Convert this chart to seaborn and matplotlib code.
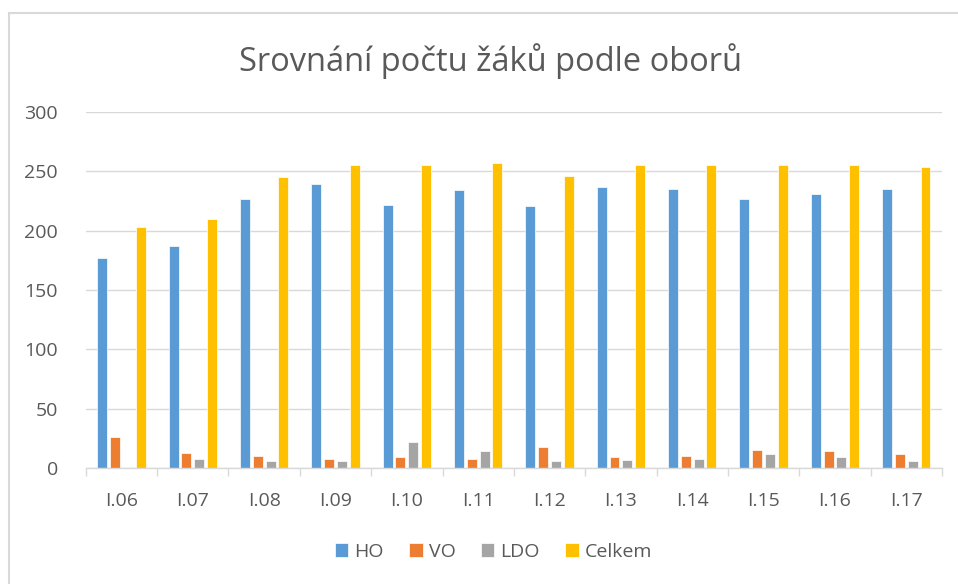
import pandas as pd
import numpy as np
import matplotlib.pyplot as plt
import seaborn as sns
from matplotlib.lines import Line2D

# data
obdobi = ['I.06', 'I.07', 'I.08', 'I.09', 'I.10', 'I.11',
          'I.12', 'I.13', 'I.14', 'I.15', 'I.16', 'I.17']
ho = [177, 187, 227, 239, 222, 234, 221, 237, 235, 227, 231, 235]
vo = [26, 13, 10, 8, 9, 8, 18, 9, 10, 15, 14, 12]
ldo = [0, 8, 6, 6, 22, 14, 6, 7, 8, 12, 9, 6]
celkem = [203, 210, 245, 255, 255, 257, 246, 255, 255, 255, 255, 254]

obory = ['HO', 'VO', 'LDO', 'Celkem']
barvy = ['#5B9BD5', '#ED7D31', '#A5A5A5', '#FFC000']

df = pd.DataFrame({'obdobi': obdobi, 'HO': ho, 'VO': vo, 'LDO': ldo, 'Celkem': celkem})
df = df.melt(id_vars='obdobi', var_name='obor', value_name='pocet')

sns.set_theme(style='white')
plt.rcParams['font.family'] = ['Open Sans', 'DejaVu Sans']
text_color = '#595959'
grid_color = '#D9D9D9'

fig = plt.figure(figsize=(9.58, 5.84), dpi=100)
ax = fig.add_axes([0.0895, 0.1986, 0.9833 - 0.0895, 0.8082 - 0.1986])

sns.barplot(data=df, x='obdobi', y='pocet', hue='obor', hue_order=obory,
            palette=barvy, saturation=1, width=0.717, gap=0.22, edgecolor='white',
            linewidth=0.5, ax=ax)

ax.set_ylim(0, 300)
ax.set_xlim(-0.5, len(obdobi) - 0.5)
ax.set_yticks(range(0, 301, 50))
ax.yaxis.grid(True, color=grid_color, linewidth=1)
ax.set_axisbelow(True)
ax.set_xlabel('')
ax.set_ylabel('')

for s in ['left', 'right', 'top']:
    ax.spines[s].set_visible(False)
ax.spines['bottom'].set_color(grid_color)
ax.spines['bottom'].set_linewidth(1)

# tick marks between categories
ax.set_xticks(np.arange(-0.5, len(obdobi)), minor=True)
ax.tick_params(axis='x', which='minor', length=6, color=grid_color, direction='out', bottom=True)
ax.tick_params(axis='x', which='major', length=0, pad=17, labelsize=14, labelcolor=text_color)
ax.tick_params(axis='y', length=0, pad=20, labelsize=14, labelcolor=text_color)

fig.suptitle('Srovnání počtu žáků podle oborů', x=0.512, y=0.895, fontsize=23.5,
             color=text_color, va='center')

ax.legend(loc='center', bbox_to_anchor=(0.515, 0.055), bbox_transform=fig.transFigure,
          ncol=4, frameon=False, fontsize=14, labelcolor=text_color,
          handlelength=0.7, handleheight=0.7, handletextpad=0.3, columnspacing=1.3)

# chart frame (left and top edges visible)
fig.add_artist(Line2D([9 / 958, 9 / 958], [0, 1 - 13 / 584], color=grid_color, linewidth=1.5,
                      transform=fig.transFigure))
fig.add_artist(Line2D([9 / 958, 1], [1 - 13 / 584, 1 - 13 / 584], color=grid_color, linewidth=1.5,
                      transform=fig.transFigure))

plt.savefig('out.png', dpi=100)
